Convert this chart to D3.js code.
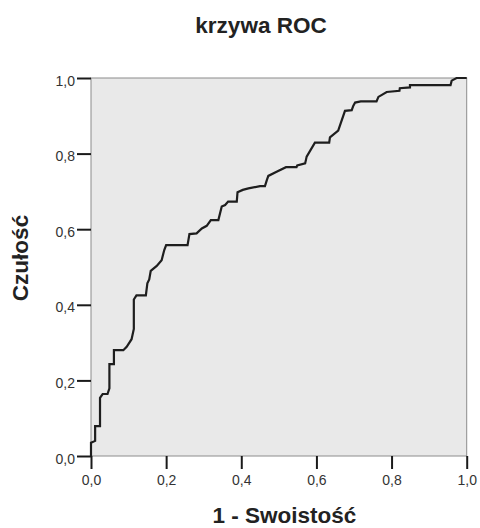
<!DOCTYPE html>
<html>
<head>
<meta charset="utf-8">
<script src="https://cdn.jsdelivr.net/npm/d3@7"></script>
<style>
  body { margin: 0; background: #fff; }
  text { font-family: "Liberation Sans", Arial, sans-serif; }
</style>
</head>
<body>
<div id="chart"></div>
<script>
// ROC curve points
const fpr = [0, 0, 0.011, 0.011, 0.024, 0.024, 0.031, 0.044, 0.049, 0.049, 0.061, 0.061,
  0.086, 0.095, 0.108, 0.114, 0.114, 0.121, 0.146, 0.150, 0.155, 0.159, 0.175, 0.188,
  0.195, 0.200, 0.257, 0.262, 0.281, 0.295, 0.308, 0.319, 0.339, 0.348, 0.357, 0.365,
  0.388, 0.390, 0.404, 0.419, 0.450, 0.463, 0.468, 0.472, 0.494, 0.519, 0.547, 0.549,
  0.570, 0.574, 0.596, 0.634, 0.636, 0.658, 0.676, 0.694, 0.698, 0.703, 0.718, 0.760,
  0.765, 0.787, 0.821, 0.822, 0.849, 0.849, 0.957, 0.960, 0.973, 1.0];
const tpr = [0, 0.035, 0.040, 0.079, 0.079, 0.154, 0.164, 0.164, 0.179, 0.243, 0.243, 0.280,
  0.280, 0.289, 0.309, 0.336, 0.414, 0.425, 0.425, 0.457, 0.467, 0.490, 0.503, 0.518,
  0.545, 0.558, 0.558, 0.587, 0.589, 0.602, 0.609, 0.624, 0.624, 0.660, 0.664, 0.673,
  0.673, 0.698, 0.704, 0.708, 0.714, 0.714, 0.730, 0.741, 0.752, 0.764, 0.764, 0.769,
  0.774, 0.792, 0.829, 0.829, 0.843, 0.861, 0.913, 0.915, 0.926, 0.935, 0.938, 0.938,
  0.950, 0.963, 0.966, 0.973, 0.975, 0.981, 0.981, 0.993, 1.0, 1.0];

const tickValues = [0, 0.2, 0.4, 0.6, 0.8, 1.0];
const title = "krzywa ROC";
const xLabel = "1 - Swoistość";
const yLabel = "Czułość";

const width = 480;
const height = 528;
const margin = { top: 78, right: 13.3, bottom: 72, left: 91 };

const points = fpr.map((d, i) => ({ x: d, y: tpr[i] }));
const fmt = (d) => d3.format(".1f")(d).replace(".", ",");

const svg = d3.select("#chart")
  .append("svg")
  .attr("width", width)
  .attr("height", height);

const x = d3.scaleLinear().domain([0, 1]).range([margin.left, width - margin.right]);
const y = d3.scaleLinear().domain([0, 1]).range([height - margin.bottom, margin.top]);

// plot background
svg.append("rect")
  .attr("x", x(0))
  .attr("y", y(1))
  .attr("width", x(1) - x(0))
  .attr("height", y(0) - y(1))
  .attr("fill", "#e9e9e9")
  .attr("stroke", "#8c8c8c")
  .attr("stroke-width", 1);

const xAxis = svg.append("g")
  .attr("transform", `translate(0,${y(0)})`)
  .call(d3.axisBottom(x).tickValues(tickValues).tickFormat(fmt).tickSize(13).tickSizeOuter(0).tickPadding(6));

const yAxis = svg.append("g")
  .attr("transform", `translate(${x(0)},0)`)
  .call(d3.axisLeft(y).tickValues(tickValues).tickFormat(fmt).tickSize(14).tickSizeOuter(0).tickPadding(2));

[xAxis, yAxis].forEach((g) => {
  g.select(".domain").remove();
  g.selectAll(".tick line").attr("stroke", "#1a1a1a").attr("stroke-width", 2);
  g.selectAll(".tick text")
    .attr("fill", "#333")
    .style("font-size", "14px")
    .style("font-family", "'Liberation Sans', Arial, sans-serif");
});
yAxis.selectAll(".tick text").attr("dy", "0.5em");

const line = d3.line()
  .x((d) => x(d.x))
  .y((d) => y(d.y));

svg.append("path")
  .datum(points)
  .attr("d", line)
  .attr("fill", "none")
  .attr("stroke", "#1e1e1e")
  .attr("stroke-width", 2.2)
  .attr("stroke-linejoin", "miter");

svg.append("text")
  .attr("x", 261)
  .attr("y", 33)
  .attr("text-anchor", "middle")
  .attr("font-weight", "bold")
  .attr("font-size", 22.5)
  .attr("fill", "#222")
  .text(title);

svg.append("text")
  .attr("x", 284.5)
  .attr("y", 523)
  .attr("text-anchor", "middle")
  .attr("font-weight", "bold")
  .attr("font-size", 22.5)
  .attr("fill", "#222")
  .text(xLabel);

svg.append("text")
  .attr("transform", "translate(28,258) rotate(-90)")
  .attr("text-anchor", "middle")
  .attr("font-weight", "bold")
  .attr("font-size", 22.5)
  .attr("fill", "#222")
  .text(yLabel);
</script>
</body>
</html>
